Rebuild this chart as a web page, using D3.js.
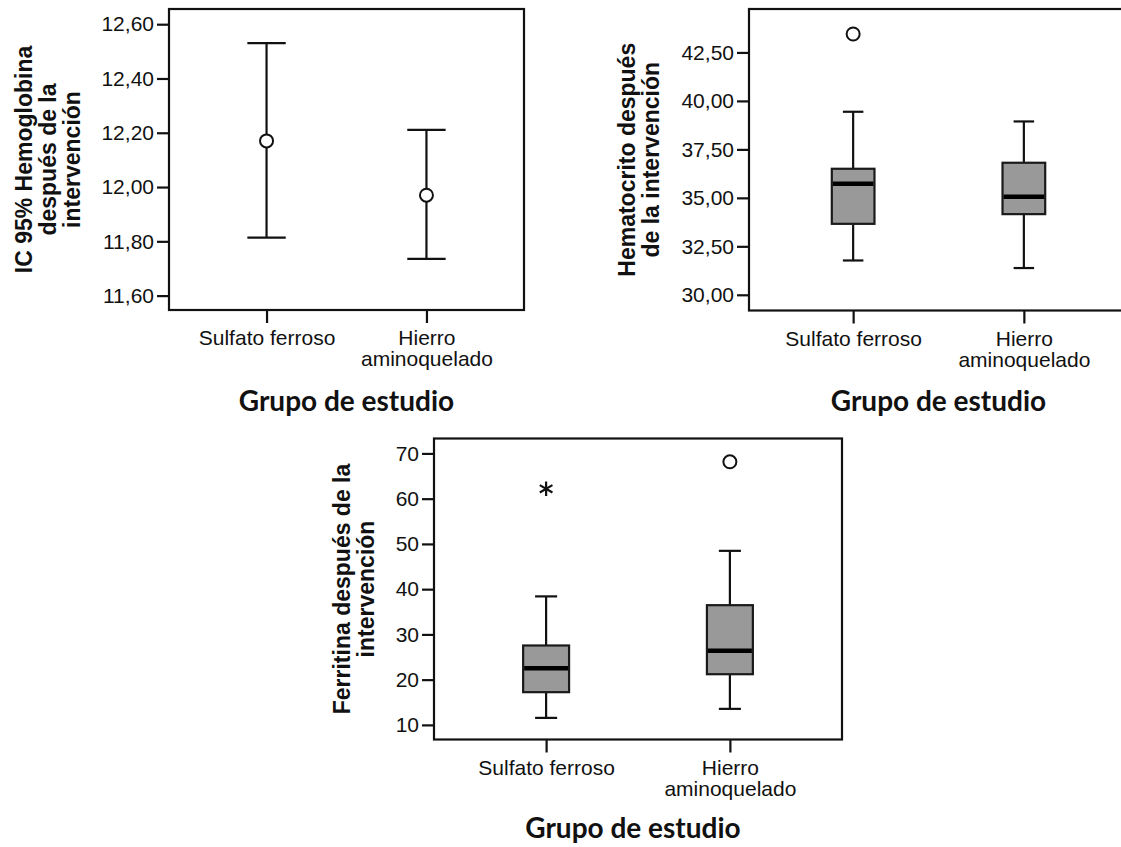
<!DOCTYPE html>
<html>
<head>
<meta charset="utf-8">
<script src="https://cdn.jsdelivr.net/npm/d3@7"></script>
<style>
  body { margin: 0; background: #fff; }
  text { font-family: "Liberation Sans", Arial, sans-serif; }
</style>
</head>
<body>
<div id="chart"></div>
<script>
// categories shared by the three panels
const categories = ["Sulfato ferroso", "Hierro aminoquelado"];
const categoryLines = [["Sulfato ferroso"], ["Hierro", "aminoquelado"]];

// panel 1 : IC 95% hemoglobina
const hbMean = [12.17, 11.97];
const hbLow = [11.814, 11.735];
const hbHigh = [12.53, 12.211];
const hbTicks = [11.6, 11.8, 12.0, 12.2, 12.4, 12.6];

// panel 2 : hematocrito (boxplot)
const hctMin = [31.77, 31.38];
const hctQ1 = [33.66, 34.16];
const hctMed = [35.73, 35.06];
const hctQ3 = [36.50, 36.81];
const hctMax = [39.44, 38.94];
const hctOutliers = [{group: "Sulfato ferroso", value: 43.45, kind: "circle"}];
const hctTicks = [30, 32.5, 35, 37.5, 40, 42.5];

// panel 3 : ferritina (boxplot)
const ferMin = [11.55, 13.54];
const ferQ1 = [17.23, 21.2];
const ferMed = [22.54, 26.36];
const ferQ3 = [27.55, 36.46];
const ferMax = [38.4, 48.47];
const ferOutliers = [
  {group: "Sulfato ferroso", value: 62.18, kind: "star"},
  {group: "Hierro aminoquelado", value: 68.15, kind: "circle"}
];
const ferTicks = [10, 20, 30, 40, 50, 60, 70];

const width = 1121, height = 847;

const svg = d3.select("#chart")
  .append("svg")
    .attr("width", width)
    .attr("height", height);

const es = d3.formatLocale({decimal: ",", thousands: ".", grouping: [3], currency: ["", ""]});

// draws frame, axes and titles of one panel, returns the scales
function drawPanel(box, yDomain, ticks, fmt, yTitle, titleX, titleY, titleShift) {
  const x = d3.scalePoint()
    .domain(categories)
    .range([box.left, box.right])
    .padding(0.61);
  const y = d3.scaleLinear()
    .domain(yDomain)
    .range([box.bottom, box.top]);

  const g = svg.append("g");

  // y axis
  const ya = g.append("g")
    .attr("transform", `translate(${box.left},0)`)
    .call(d3.axisLeft(y).tickValues(ticks).tickSize(12).tickPadding(3).tickFormat(fmt));
  ya.select(".domain").remove();
  ya.selectAll(".tick line").attr("stroke", "#111").attr("stroke-width", 2.2);
  ya.selectAll(".tick text")
    .style("font-size", "21px")
    .style("font-family", "'Liberation Sans', Arial, sans-serif")
    .attr("fill", "#111");

  // x axis
  const xa = g.append("g")
    .attr("transform", `translate(0,${box.bottom})`)
    .call(d3.axisBottom(x).tickSize(13).tickFormat(""));
  xa.select(".domain").remove();
  xa.selectAll(".tick line").attr("stroke", "#111").attr("stroke-width", 2.2);
  xa.selectAll(".tick")
    .append("text")
      .attr("text-anchor", "middle")
      .attr("fill", "#111")
      .style("font-size", "21px")
      .style("font-family", "'Liberation Sans', Arial, sans-serif")
      .selectAll("tspan")
      .data((d, i) => categoryLines[i])
      .join("tspan")
        .attr("x", 0)
        .attr("y", (d, i) => 35 + i * 21)
        .text(d => d);

  // frame
  g.append("rect")
    .attr("x", box.left)
    .attr("y", box.top)
    .attr("width", box.right - box.left)
    .attr("height", box.bottom - box.top)
    .attr("fill", "none")
    .attr("stroke", "#111")
    .attr("stroke-width", 2.2);

  // y title, rotated
  const cy = (box.top + box.bottom) / 2;
  g.append("text")
    .attr("transform", `translate(${titleX},${cy}) rotate(-90)`)
    .attr("text-anchor", "middle")
    .style("font-size", "23px")
    .style("font-weight", "bold")
    .style("font-family", "'Liberation Sans', Arial, sans-serif")
    .attr("fill", "#111")
    .selectAll("tspan")
    .data(yTitle)
    .join("tspan")
      .attr("x", 0)
      .attr("y", (d, i) => i * 24)
      .text(d => d);

  // x title
  g.append("text")
    .attr("x", (box.left + box.right) / 2 + (titleShift || 0))
    .attr("y", titleY)
    .attr("text-anchor", "middle")
    .style("font-family", "Lato, 'Open Sans', sans-serif")
    .style("font-size", "28px")
    .style("font-weight", "bold")
    .attr("fill", "#111")
    .text("Grupo de estudio");

  return {x, y, g};
}

function drawBoxes(p, mins, q1s, meds, q3s, maxs, outliers) {
  const bw = p.x.step() * 0.25;
  const cw = p.x.step() * 0.12;
  categories.forEach(function(c, i) {
    const cx = p.x(c);
    // whiskers
    p.g.append("line")
      .attr("x1", cx).attr("x2", cx)
      .attr("y1", p.y(maxs[i])).attr("y2", p.y(mins[i]))
      .attr("stroke", "#111").attr("stroke-width", 2.2);
    [mins[i], maxs[i]].forEach(v => {
      p.g.append("line")
        .attr("x1", cx - cw / 2).attr("x2", cx + cw / 2)
        .attr("y1", p.y(v)).attr("y2", p.y(v))
        .attr("stroke", "#111").attr("stroke-width", 2.2);
    });
    // box
    p.g.append("rect")
      .attr("x", cx - bw / 2)
      .attr("y", p.y(q3s[i]))
      .attr("width", bw)
      .attr("height", p.y(q1s[i]) - p.y(q3s[i]))
      .attr("fill", "#999999")
      .attr("stroke", "#1a1a1a")
      .attr("stroke-width", 2.2);
    // median
    p.g.append("line")
      .attr("x1", cx - bw / 2 + 1).attr("x2", cx + bw / 2 - 1)
      .attr("y1", p.y(meds[i])).attr("y2", p.y(meds[i]))
      .attr("stroke", "#000").attr("stroke-width", 4.5);
  });
  outliers.forEach(function(o) {
    if (o.kind === "circle") {
      p.g.append("circle")
        .attr("cx", p.x(o.group))
        .attr("cy", p.y(o.value))
        .attr("r", 6.5)
        .attr("fill", "none")
        .attr("stroke", "#111")
        .attr("stroke-width", 2);
    } else {
      p.g.append("path")
        .attr("transform", `translate(${p.x(o.group)},${p.y(o.value)})`)
        .attr("d", d3.symbol(d3.symbolAsterisk, 150)())
        .attr("fill", "none")
        .attr("stroke", "#111")
        .attr("stroke-width", 2.2);
    }
  });
}

// panel 1 : error bars
const p1 = drawPanel({left: 169, right: 524, top: 9, bottom: 310},
  [11.547, 12.656], hbTicks, es.format(".2f"),
  ["IC 95% Hemoglobina", "después de la", "intervención"], 32, 411);
const capW = p1.x.step() * 0.24;
categories.forEach(function(c, i) {
  const cx = p1.x(c);
  p1.g.append("line")
    .attr("x1", cx).attr("x2", cx)
    .attr("y1", p1.y(hbHigh[i])).attr("y2", p1.y(hbLow[i]))
    .attr("stroke", "#111").attr("stroke-width", 2.2);
  [hbHigh[i], hbLow[i]].forEach(v => {
    p1.g.append("line")
      .attr("x1", cx - capW / 2).attr("x2", cx + capW / 2)
      .attr("y1", p1.y(v)).attr("y2", p1.y(v))
      .attr("stroke", "#111").attr("stroke-width", 2.2);
  });
  p1.g.append("circle")
    .attr("cx", cx).attr("cy", p1.y(hbMean[i]))
    .attr("r", 6.5)
    .attr("fill", "#fff")
    .attr("stroke", "#111")
    .attr("stroke-width", 2);
});

// panel 2 : hematocrito
const p2 = drawPanel({left: 749, right: 1128, top: 9, bottom: 310.5},
  [29.19, 44.74], hctTicks, es.format(".2f"),
  ["Hematocrito después", "de la intervención"], 635, 411);
drawBoxes(p2, hctMin, hctQ1, hctMed, hctQ3, hctMax, hctOutliers);

// panel 3 : ferritina
const p3 = drawPanel({left: 434, right: 842, top: 438.5, bottom: 739.5},
  [6.77, 73.3], ferTicks, d3.format("d"),
  ["Ferritina después de la", "intervención"], 350, 838, -5);
drawBoxes(p3, ferMin, ferQ1, ferMed, ferQ3, ferMax, ferOutliers);
</script>
</body>
</html>
